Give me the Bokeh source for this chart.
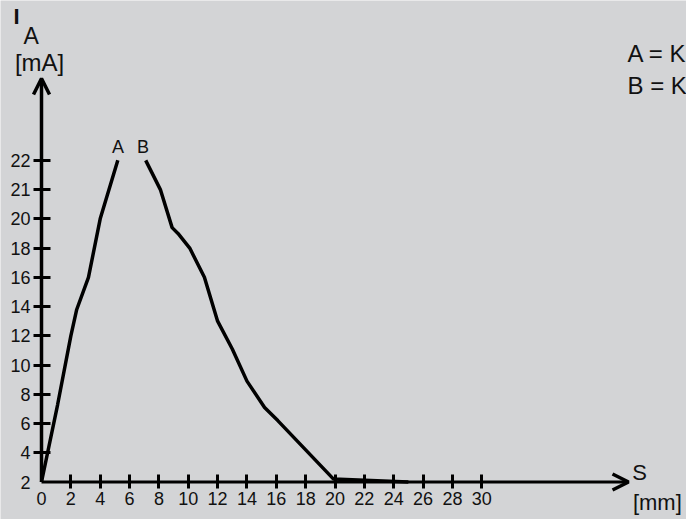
from bokeh.plotting import figure
from bokeh.models import Arrow, OpenHead, FixedTicker, Label, Range1d, LinearAxis
from bokeh.embed import file_html
from bokeh.resources import INLINE

# ---- data ----
X_TICKS = [0, 2, 4, 6, 8, 10, 12, 14, 16, 18, 20, 22, 24, 26, 28, 30]
Y_TICK_LABELS = ["2", "4", "6", "8", "10", "12", "14", "16", "18", "20", "21", "22"]
Y_TICK_VALUES = [2, 4, 6, 8, 10, 12, 14, 16, 18, 20, 21, 22]

A_S = [0, 1.1, 2.0, 2.4, 3.2, 4.0, 5.2]
A_I = [2, 7.3, 12, 13.8, 16, 20, 22]

B_S = [7.1, 8.1, 8.9, 9.3, 10.1, 11.1, 12.0, 13.0, 14.0, 15.2, 16.1, 19.9, 25.0]
B_I = [22, 21, 19.4, 19.0, 18.0, 16.0, 13.0, 11.1, 8.9, 7.1, 6.2, 2.2, 2.0]

LEGEND = ["A = K", "B = K"]


def to_pos(ma):
    # the current axis is evenly spaced ticks: 2,4,...,20 then 21,22
    return (ma - 2) / 2 if ma <= 20 else 9 + (ma - 20)


BG = "#d3d4d6"
FONT = "Liberation Sans"

p = figure(width=686, height=519, output_backend="svg", toolbar_location=None,
           x_range=Range1d(-2.794, 43.95), y_range=Range1d(-1.282, 16.467),
           x_axis_location=None, y_axis_location=None, min_border=0,
           background_fill_color=BG, border_fill_color=BG, outline_line_color=None)
p.grid.visible = False

ypos = [to_pos(v) for v in Y_TICK_VALUES]
yover = {yp: lab for yp, lab in zip(ypos, Y_TICK_LABELS)}


def make_axis(ticks, tick_in, tick_out, standoff, show_ticks=True, overrides=None):
    ax = LinearAxis(fixed_location=0, ticker=FixedTicker(ticks=ticks))
    if overrides:
        ax.major_label_overrides = overrides
    ax.axis_line_color = None
    ax.major_tick_line_width = 3
    ax.major_tick_line_color = "black" if show_ticks else None
    ax.minor_tick_line_color = None
    ax.major_tick_in = tick_in
    ax.major_tick_out = tick_out
    ax.major_label_standoff = standoff
    ax.major_label_text_font = FONT
    ax.major_label_text_font_size = "18px"
    ax.major_label_text_color = "#111111"
    return ax


# x axis: ticks away from the origin, origin label without a tick
p.add_layout(make_axis([t for t in X_TICKS if t != 0], 8, 6, 4), "below")
p.add_layout(make_axis([X_TICKS[0]], 0, 6, 4, show_ticks=False), "below")
# y axis
p.add_layout(make_axis(ypos[1:], 9, 8, 3, overrides=yover), "left")
p.add_layout(make_axis(ypos[:1], 0, 8, 3, show_ticks=False, overrides=yover), "left")

# axes lines with arrow heads
p.add_layout(Arrow(x_start=0, y_start=0, x_end=40, y_end=0, line_width=3,
                   end=OpenHead(size=16, line_width=3.5)))
p.add_layout(Arrow(x_start=0, y_start=0, x_end=0, y_end=13.8, line_width=3.5,
                   end=OpenHead(size=16, line_width=3.5)))

# curves
p.line(A_S, [to_pos(v) for v in A_I], line_width=3.5, line_color="black")
p.line(B_S, [to_pos(v) for v in B_I], line_width=3.5, line_color="black")


def lab(text, x, y, size, align="left", style="normal"):
    p.add_layout(Label(x=x, y=y, text=text, text_font=FONT, text_font_size=size,
                       text_align=align, text_baseline="alphabetic", text_color="#111111",
                       text_font_style=style))


# axis titles
lab("I", -1.91, 15.92, "22px", style="bold")
lab("A", -1.23, 15.27, "23px")
lab("[mA]", -1.81, 14.34, "24px")
lab("S", 40.25, 0.32, "22px")
lab("[mm]", 40.3, -0.70, "22px")

# curve letters
lab("A", 5.21, 11.47, "18px", align="center")
lab("B", 6.92, 11.47, "18px", align="center")

# legend texts (cut at the right edge)
lab(LEGEND[0], 39.93, 14.66, "24px")
lab(LEGEND[1], 39.93, 13.57, "24px")

open("out.html", "w").write(file_html(p, INLINE))
